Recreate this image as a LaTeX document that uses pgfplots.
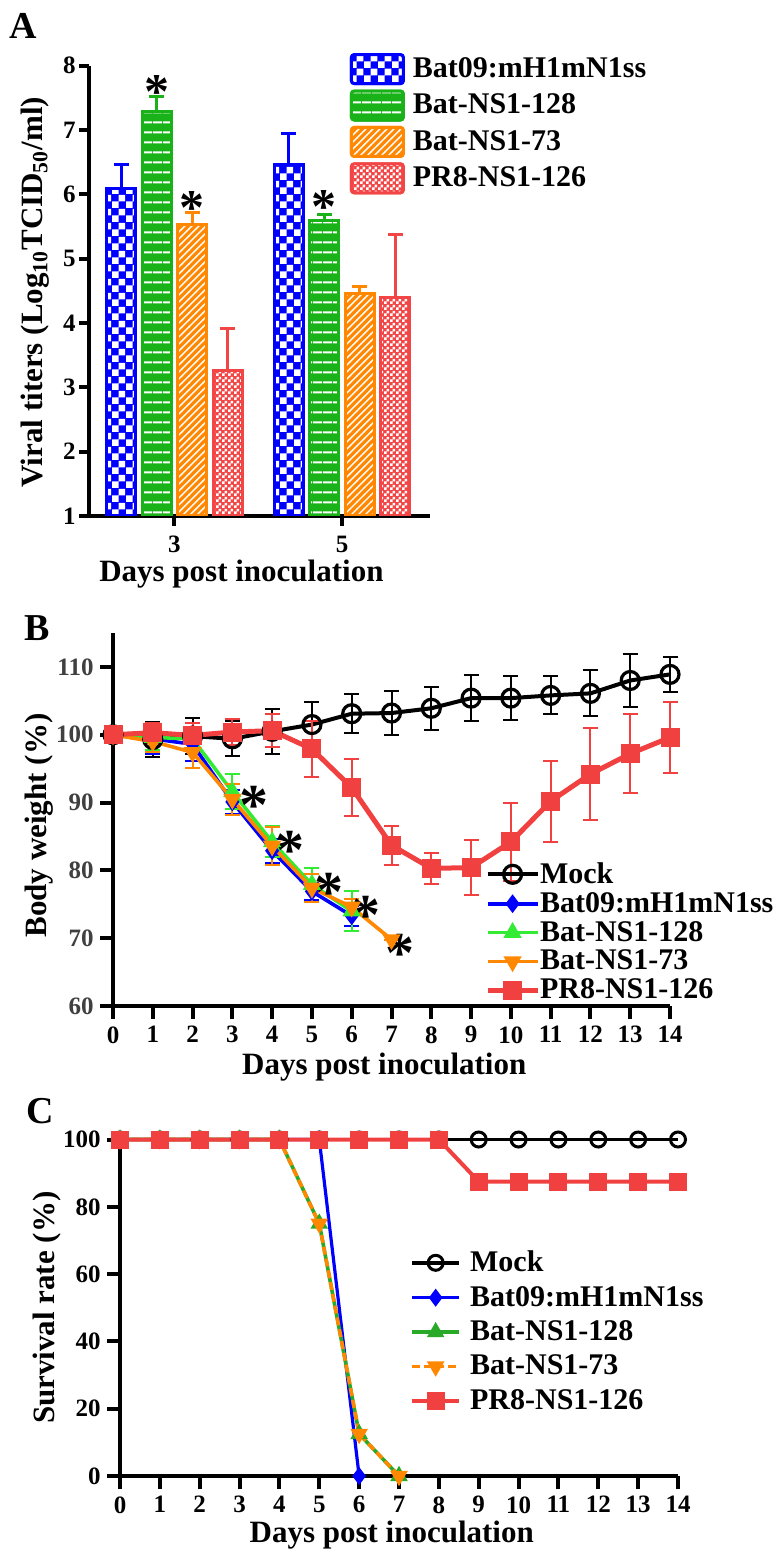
\documentclass[border=0pt]{standalone}
\usepackage{fontspec}
\setmainfont{Liberation Serif}
\usepackage{pgfplots}
\pgfplotsset{compat=1.18}
\usetikzlibrary{patterns}

\definecolor{cBlue}{RGB}{0,0,255}
\definecolor{cGreenBar}{RGB}{25,178,25}
\definecolor{cOrange}{RGB}{255,136,0}
\definecolor{cRedBar}{RGB}{242,70,70}
\definecolor{cGreenB}{RGB}{50,235,50}
\definecolor{cGreenC}{RGB}{40,170,40}
\definecolor{cRed}{RGB}{240,64,64}
\definecolor{tickgray}{RGB}{64,64,64}

\pgfdeclarepatternformonly{bigcheck}{\pgfpointorigin}{\pgfqpoint{7pt}{7pt}}{\pgfqpoint{7pt}{7pt}}{%
  \pgfpathrectangle{\pgfpointorigin}{\pgfqpoint{3.5pt}{3.5pt}}%
  \pgfpathrectangle{\pgfqpoint{3.5pt}{3.5pt}}{\pgfqpoint{3.5pt}{3.5pt}}%
  \pgfusepath{fill}}
\pgfdeclarepatternformonly{smallcheck}{\pgfpointorigin}{\pgfqpoint{3pt}{3pt}}{\pgfqpoint{3pt}{3pt}}{%
  \pgfpathrectangle{\pgfpointorigin}{\pgfqpoint{1.5pt}{1.5pt}}%
  \pgfpathrectangle{\pgfqpoint{1.5pt}{1.5pt}}{\pgfqpoint{1.5pt}{1.5pt}}%
  \pgfusepath{fill}}
\pgfdeclarepatternformonly{hdash}{\pgfpointorigin}{\pgfqpoint{4.75pt}{4.75pt}}{\pgfqpoint{4.75pt}{4.75pt}}{%
  \pgfpathrectangle{\pgfqpoint{0pt}{1.9pt}}{\pgfqpoint{4.75pt}{1pt}}%
  \pgfusepath{fill}}
\pgfdeclarepatternformonly{diagw}{\pgfqpoint{-1pt}{-1pt}}{\pgfqpoint{4.5pt}{4.5pt}}{\pgfqpoint{3.5pt}{3.5pt}}{%
  \pgfsetlinewidth{0.7pt}%
  \pgfpathmoveto{\pgfqpoint{-0.1pt}{-0.1pt}}%
  \pgfpathlineto{\pgfqpoint{3.6pt}{3.6pt}}%
  \pgfusepath{stroke}}

\newcommand{\tickfontB}{\fontsize{12.5}{12.5}\selectfont\bfseries}

\pgfplotsset{
  panel/.style={
    scale only axis, anchor=south west,
    axis x line=bottom, axis y line=left,
    axis line style={line width=2.2pt, -},
    tick style={line width=2pt, black},
    tick align=outside,
    major tick length=6pt,
    /pgf/number format/assume math mode=true,
    tick label style={font=\tickfontB, inner sep=1pt},
    xticklabel style={yshift=-2.5pt},
    label style={font=\fontsize{15.5}{15.5}\selectfont\bfseries, inner sep=0pt},
    legend style={draw=none, fill=none, inner sep=0pt, outer sep=0pt,
      font=\fontsize{15}{15}\selectfont\bfseries, nodes={inner sep=0pt}},
    legend cell align=left,
  },
}

\begin{document}
\begin{tikzpicture}

% ---------------- Panel A ----------------
\begin{axis}[panel,
  at={(44.5pt,-257.9pt)},
  width=170.5pt, height=225.05pt,
  xmin=1.98, xmax=6.05, ymin=1, ymax=8,
  xtick={3,5}, ytick={1,2,3,4,5,6,7,8},
  major tick length=5pt,
  xticklabel style={yshift=-1.5pt},
  yticklabel style={inner sep=1.5pt},
  ybar=3.25pt, bar width=14.5pt,
  xlabel={Days post inoculation},
  ylabel={Viral titers (Log\textsubscript{10}TCID\textsubscript{50}/ml)},
  xlabel style={at={(axis description cs:0.447,0)}, anchor=base, yshift=-32.6pt},
  ylabel style={at={(axis description cs:-0.135,0.497)}, anchor=base},
  legend image code/.code={\draw[#1, rounded corners=1.5pt] (0pt,-7.25pt) rectangle (26pt,7.25pt);},
  legend style={at={(axis description cs:0.765,1.028)}, anchor=north west, row sep=2.2pt, column sep=4pt},
]
\addplot[draw=cBlue, line width=1.5pt, preaction={fill=cBlue}, pattern=bigcheck, pattern color=white,
  error bars/.cd, y dir=plus, y explicit,
  error bar style={line width=1.5pt, cBlue},
  error mark options={rotate=90, mark size=3.75pt, line width=1.5pt, cBlue}]
  coordinates {(3,6.09) +- (0,0.38) (5,6.46) +- (0,0.48)};
\addlegendentry{Bat09:mH1mN1ss}
\addplot[draw=cGreenBar, line width=1.5pt, preaction={fill=cGreenBar}, pattern=hdash, pattern color=white,
  error bars/.cd, y dir=plus, y explicit,
  error bar style={line width=1.5pt, cGreenBar},
  error mark options={rotate=90, mark size=3.75pt, line width=1.5pt, cGreenBar}]
  coordinates {(3,7.29) +- (0,0.23) (5,5.59) +- (0,0.10)};
\addlegendentry{Bat-NS1-128}
\addplot[draw=cOrange, line width=1.5pt, preaction={fill=cOrange}, pattern=diagw, pattern color=white,
  error bars/.cd, y dir=plus, y explicit,
  error bar style={line width=1.5pt, cOrange},
  error mark options={rotate=90, mark size=3.75pt, line width=1.5pt, cOrange}]
  coordinates {(3,5.53) +- (0,0.19) (5,4.46) +- (0,0.10)};
\addlegendentry{Bat-NS1-73}
\addplot[draw=cRedBar, line width=1.5pt, preaction={fill=cRedBar}, pattern=smallcheck, pattern color=white,
  error bars/.cd, y dir=plus, y explicit,
  error bar style={line width=1.5pt, cRedBar},
  error mark options={rotate=90, mark size=3.75pt, line width=1.5pt, cRedBar}]
  coordinates {(3,3.26) +- (0,0.65) (5,4.39) +- (0,0.98)};
\addlegendentry{PR8-NS1-126}
\node[font=\fontsize{25}{25}\selectfont\bfseries, anchor=base, xshift=-8.875pt, yshift=-13.2pt] at (axis cs:3,7.75) {*};
\node[font=\fontsize{25}{25}\selectfont\bfseries, anchor=base, xshift=8.875pt, yshift=-13.2pt] at (axis cs:3,5.94) {*};
\node[font=\fontsize{25}{25}\selectfont\bfseries, anchor=base, xshift=-8.875pt, yshift=-13.2pt] at (axis cs:5,5.96) {*};
\end{axis}

% ---------------- Panel B ----------------
\begin{axis}[panel,
  at={(56.5pt,-503pt)},
  width=278.5pt, height=186.5pt,
  xmin=0, xmax=14, ymin=60, ymax=115,
  xtick={0,1,2,3,4,5,6,7,8,9,10,11,12,13,14}, ytick={60,70,80,90,100,110},
  major tick length=6.5pt,
  yticklabel style={text=tickgray, inner sep=3pt},
  clip=false,
  xlabel={Days post inoculation},
  ylabel={Body weight (\%)},
  xlabel style={at={(axis description cs:0.487,0)}, anchor=base, yshift=-34pt},
  ylabel style={at={(axis description cs:-0.119,0.484)}, anchor=base},
  legend image code/.code={\draw[mark repeat=2, mark phase=2, #1] plot coordinates {(0pt,0pt) (12.5pt,0pt) (25pt,0pt)};},
  legend style={at={(axis description cs:0.668,0.385)}, anchor=north west, row sep=3pt, column sep=0pt},
]
\addplot[black, line width=2pt, mark=o, mark size=4.5pt, mark options={line width=1.6pt},
  error bars/.cd, y dir=both, y explicit,
  error bar style={line width=1pt, black},
  error mark options={rotate=90, mark size=3.75pt, line width=1pt, black}]
  coordinates {(0,100) +- (0,0.6) (1,99.3) +- (0,2.6) (2,99.8) +- (0,2.7) (3,99.4) +- (0,2.6)
    (4,100.5) +- (0,3.3) (5,101.5) +- (0,3.3) (6,103.1) +- (0,2.9) (7,103.2) +- (0,3.2)
    (8,103.9) +- (0,3.15) (9,105.4) +- (0,3.4) (10,105.4) +- (0,3.2) (11,105.8) +- (0,2.8)
    (12,106.1) +- (0,3.4) (13,108.0) +- (0,3.9) (14,108.9) +- (0,2.6)};
\addlegendentry{Mock}
\addplot[cBlue, line width=1.8pt, mark=diamond*, mark size=3.2pt,
  error bars/.cd, y dir=both, y explicit,
  error bar style={line width=1pt, cBlue},
  error mark options={rotate=90, mark size=3.75pt, line width=1pt, cBlue}]
  coordinates {(0,100) +- (0,0.5) (1,99.4) +- (0,2.3) (2,98.6) +- (0,2.5) (3,90.1) +- (0,1.8)
    (4,82.9) +- (0,1.8) (5,76.9) +- (0,1.3) (6,73.3) +- (0,1.5)};
\addlegendentry{Bat09:mH1mN1ss}
\addplot[cGreenB, line width=1.8pt, mark=triangle*, mark size=3.5pt,
  error bars/.cd, y dir=both, y explicit,
  error bar style={line width=1pt, cGreenB},
  error mark options={rotate=90, mark size=3.75pt, line width=1pt, cGreenB}]
  coordinates {(0,100) +- (0,0.5) (1,99.6) +- (0,1.8) (2,99.4) +- (0,1.6) (3,91.6) +- (0,2.6)
    (4,84.2) +- (0,2.3) (5,77.9) +- (0,2.5) (6,74.0) +- (0,3.0)};
\addlegendentry{Bat-NS1-128}
\addplot[cOrange, line width=1.8pt, mark=triangle*, mark size=3.5pt, mark options={rotate=180},
  error bars/.cd, y dir=both, y explicit,
  error bar style={line width=1pt, cOrange},
  error mark options={rotate=90, mark size=3.75pt, line width=1pt, cOrange}]
  coordinates {(0,100) +- (0,0.5) (1,99.0) +- (0,1.6) (2,97.4) +- (0,2.3) (3,90.5) +- (0,2.3)
    (4,83.6) +- (0,2.8) (5,77.4) +- (0,2.0) (6,74.6) +- (0,1.2) (7,69.8) +- (0,0)};
\addlegendentry{Bat-NS1-73}
\addplot[cRed, line width=2.5pt, mark=square*, mark size=3.5pt,
  error bars/.cd, y dir=both, y explicit,
  error bar style={line width=1pt, cRed},
  error mark options={rotate=90, mark size=3.75pt, line width=1pt, cRed}]
  coordinates {(0,100) +- (0,0.5) (1,100.3) +- (0,1.5) (2,99.9) +- (0,1.8) (3,100.4) +- (0,1.9)
    (4,100.6) +- (0,2.4) (5,97.9) +- (0,4.1) (6,92.2) +- (0,4.2) (7,83.7) +- (0,2.9)
    (8,80.3) +- (0,2.3) (9,80.4) +- (0,4.1) (10,84.2) +- (0,5.8) (11,90.2) +- (0,6.0)
    (12,94.2) +- (0,6.8) (13,97.2) +- (0,5.8) (14,99.6) +- (0,5.3)};
\addlegendentry{PR8-NS1-126}
\node[font=\fontsize{29}{29}\selectfont\bfseries, anchor=base, yshift=-15.3pt] at (axis cs:3.55,91.3) {*};
\node[font=\fontsize{29}{29}\selectfont\bfseries, anchor=base, yshift=-15.3pt] at (axis cs:4.45,84.6) {*};
\node[font=\fontsize{29}{29}\selectfont\bfseries, anchor=base, yshift=-15.3pt] at (axis cs:5.42,78.4) {*};
\node[font=\fontsize{29}{29}\selectfont\bfseries, anchor=base, yshift=-15.3pt] at (axis cs:6.35,75.0) {*};
\node[font=\fontsize{29}{29}\selectfont\bfseries, anchor=base, yshift=-15.3pt] at (axis cs:7.22,69.5) {*};
\end{axis}

% ---------------- Panel C ----------------
\begin{axis}[panel,
  at={(60pt,-738pt)},
  width=279pt, height=168.25pt,
  xmin=0, xmax=14, ymin=0, ymax=100,
  xtick={0,1,2,3,4,5,6,7,8,9,10,11,12,13,14}, ytick={0,20,40,60,80,100},
  major tick length=6.5pt,
  yticklabel style={inner sep=3pt},
  clip=false,
  xlabel={Days post inoculation},
  ylabel={Survival rate (\%)},
  xlabel style={at={(axis description cs:0.487,0)}, anchor=base, yshift=-33pt},
  ylabel style={at={(axis description cs:-0.1165,0.5)}, anchor=base},
  legend image code/.code={\draw[mark repeat=2, mark phase=2, #1] plot coordinates {(0pt,0pt) (11.75pt,0pt) (23.5pt,0pt)};},
  legend style={at={(axis description cs:0.52,0.669)}, anchor=north west, row sep=5.75pt, column sep=4.5pt},
]
\addplot[black, line width=1.8pt, mark=o, mark size=3.75pt, mark options={line width=1.5pt}]
  coordinates {(0,100) (1,100) (2,100) (3,100) (4,100) (5,100) (6,100) (7,100)
    (8,100) (9,100) (10,100) (11,100) (12,100) (13,100) (14,100)};
\addlegendentry{Mock}
\addplot[cBlue, line width=1.6pt, mark=diamond*, mark size=3.2pt]
  coordinates {(0,100) (1,100) (2,100) (3,100) (4,100) (5,100) (6,0)};
\addlegendentry{Bat09:mH1mN1ss}
\addplot[cGreenC, line width=1.8pt, mark=triangle*, mark size=3.3pt]
  coordinates {(0,100) (1,100) (2,100) (3,100) (4,100) (5,75) (6,12.5) (7,0)};
\addlegendentry{Bat-NS1-128}
\addplot[cOrange, line width=1.8pt, dash pattern=on 4pt off 2pt, mark=triangle*, mark size=3.3pt, mark options={rotate=180, solid}]
  coordinates {(0,100) (1,100) (2,100) (3,100) (4,100) (5,75) (6,12.5) (7,0)};
\addlegendentry{Bat-NS1-73}
\addplot[cRed, line width=2pt, mark=square*, mark size=3.5pt]
  coordinates {(0,100) (1,100) (2,100) (3,100) (4,100) (5,100) (6,100) (7,100)
    (8,100) (9,87.5) (10,87.5) (11,87.5) (12,87.5) (13,87.5) (14,87.5)};
\addlegendentry{PR8-NS1-126}
\end{axis}

% panel letters
\node[font=\fontsize{19}{19}\selectfont\bfseries] at (11.5pt,-13pt) {A};
\node[font=\fontsize{19}{19}\selectfont\bfseries] at (18.5pt,-314pt) {B};
\node[font=\fontsize{19}{19}\selectfont\bfseries] at (20pt,-555.5pt) {C};

\pgfresetboundingbox
\path[use as bounding box] (0pt,0pt) rectangle (388.5pt,-776pt);
\end{tikzpicture}
\end{document}
